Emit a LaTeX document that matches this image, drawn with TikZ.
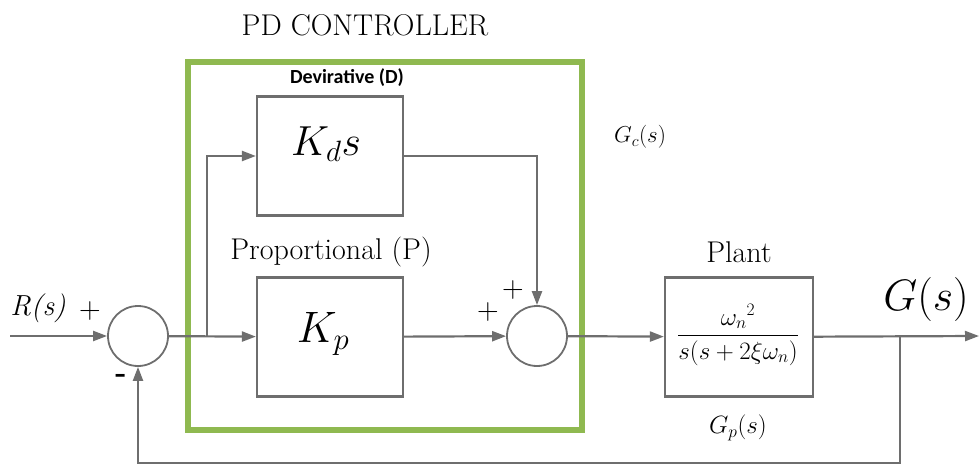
\RequirePackage{fix-cm}
\documentclass[tikz,border=0pt]{standalone}
\usepackage{fontspec}
\newfontfamily\carlito{Carlito}
\usetikzlibrary{arrows.meta,positioning}
\definecolor{pdgreen}{RGB}{143,185,80}
\definecolor{linegray}{RGB}{110,110,110}

\begin{document}
\begin{tikzpicture}[x=1pt,y=-1pt,
  wire/.style={draw=linegray,line width=2.2pt},
  sig/.style={wire,-{Triangle[length=14pt,width=10pt]}},
  blk/.style={draw=linegray,line width=2.2pt,minimum width=146pt,minimum height=119pt,inner sep=0pt},
  sumnode/.style={circle,draw=linegray,line width=1.8pt,minimum size=60pt,inner sep=0pt},
  lbl/.style={inner sep=0pt,font=\fontsize{30}{32}\selectfont},
  sgn/.style={inner sep=0pt,font=\fontsize{30}{32}\selectfont}]
\useasboundingbox (0,0) rectangle (980,465);
% controller frame
\draw[pdgreen,line width=6pt] (188,62) rectangle (582,430);
\node[lbl] (title) at (365,25) {PD CONTROLLER};
\node[inner sep=0pt,font=\carlito\bfseries\fontsize{20}{22}\selectfont] (dlab) at (347,78) {Devirative (D)};
\node[lbl] (plab) at (331,252) {Proportional (P)};
\node[lbl] (plantlab) at (739,252) {Plant};

% blocks
\node[sumnode] (sum1) at (138,336) {};
\node[sumnode] (sum2) at (537,336) {};
\node[blk] (kd) at (330,156) {};
\node[blk] (kp) at (330,337) {};
\node[blk,minimum width=148pt] (plant) at (739,337) {};
\node[inner sep=0pt,font=\fontsize{42}{44}\selectfont] (kdtxt) at (326,144) {$K_d s$};
\node[inner sep=0pt,font=\fontsize{44}{46}\selectfont] (kptxt) at (323,334) {$K_p$};
\node[inner sep=0pt,font=\fontsize{25}{27}\selectfont] (gptxt) at (738,335)
  {$\displaystyle\frac{\omega_n{}^2}{s(s+2\xi\omega_n)}$};

% signals
\coordinate (rin) at (10,336);
\coordinate (br1) at (207,336);
\coordinate (br2) at (900,336);
\coordinate (yout) at (979,336);
\coordinate (fb) at (900,463);
\draw[sig] (rin) -- (sum1);
\draw[sig] (sum1) -- (kp);
\draw[sig] (br1) |- (kd.west);
\draw[sig] (kd.east) -| (sum2.north);
\draw[sig] (kp) -- (sum2);
\draw[sig] (sum2) -- (plant);
\draw[sig] (plant) -- (yout);
\draw[sig] (br2) -- (fb) -| (sum1.south);

% labels
\node[sgn,font=\itshape\fontsize{29}{31}\selectfont] (rlab) at (38,308) {R(s)};
\node[sgn] (p1) at (90,311) {+};
\node[sgn,font=\bfseries\fontsize{30}{32}\selectfont] (m1) at (121,378) {-};
\node[sgn] (p2) at (513,290) {+};
\node[sgn] (p3) at (488,312) {+};
\node[inner sep=0pt,font=\fontsize{23}{25}\selectfont] (gc) at (640,137) {$G_c(s)$};
\node[inner sep=0pt,font=\fontsize{25}{27}\selectfont] (gp) at (738,428) {$G_p(s)$};
\node[inner sep=0pt,font=\fontsize{44}{46}\selectfont] (gs) at (926,300) {$G(s)$};
\end{tikzpicture}
\end{document}
